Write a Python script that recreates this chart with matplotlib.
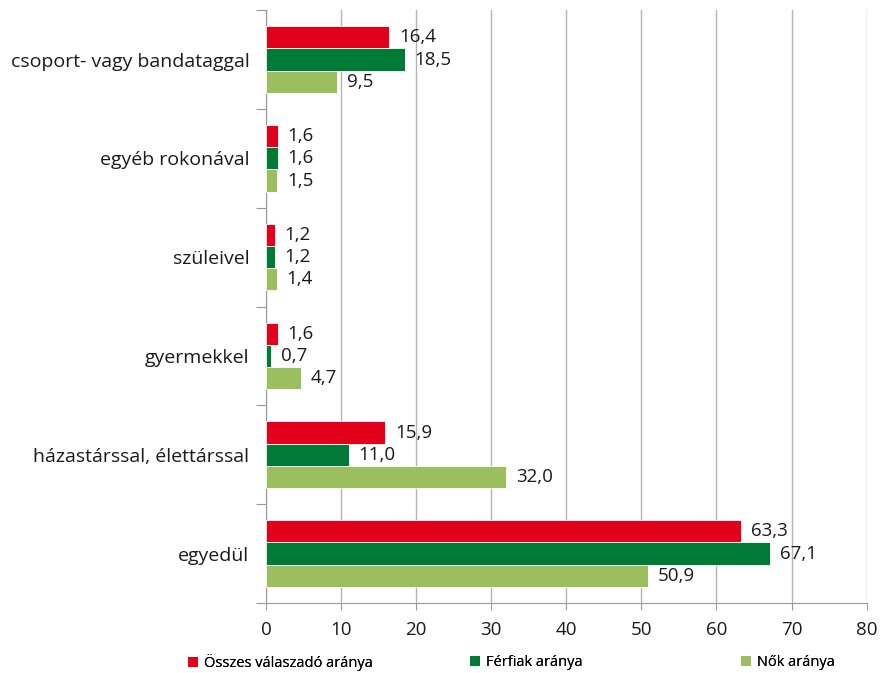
import numpy as np
import matplotlib
matplotlib.use("Agg")
import matplotlib.pyplot as plt
from matplotlib.patches import Patch

plt.rcParams['font.family'] = ['Open Sans', 'DejaVu Sans']

categories = ["csoport- vagy bandataggal", "egyéb rokonával", "szüleivel",
              "gyermekkel", "házastárssal, élettárssal", "egyedül"]
total = [16.4, 1.6, 1.2, 1.6, 15.9, 63.3]
men = [18.5, 1.6, 1.2, 0.7, 11.0, 67.1]
women = [9.5, 1.5, 1.4, 4.7, 32.0, 50.9]
series_names = ["Összes válaszadó aránya", "Férfiak aránya", "Nők aránya"]
colors = ["#E2001A", "#007A37", "#9BBF5F"]
legend_x = [0.213, 0.533, 0.840]

def main():
    fig = plt.figure(figsize=(8.82, 6.73), dpi=100)
    ax = fig.add_axes([0.3016, 0.104, 0.681, 0.881])

    y = np.arange(len(categories))
    h = 0.225
    for i, (vals, c) in enumerate(zip([total, men, women], colors)):
        pos = y + (i - 1) * h
        ax.barh(pos, vals, height=h, color=c, edgecolor="white", linewidth=0.6, zorder=3)
        for p, v in zip(pos, vals):
            ax.annotate(("%.1f" % v).replace(".", ","), (v, p), xytext=(7, 0),
                        textcoords="offset points", va="center", ha="left",
                        fontsize=13.5, color="#1a1a1a")

    ax.set_xlim(0, 80)
    ax.set_ylim(len(categories) - 0.5, -0.5)
    ax.set_xticks(np.arange(0, 81, 10))
    ax.xaxis.grid(True, color="#b4b4b4", linewidth=1, zorder=0)
    ax.tick_params(axis="x", colors="#999999", labelcolor="#1a1a1a", labelsize=13.5,
                   length=5, pad=8)

    # boundary ticks on y axis, labels at category centres
    ax.set_yticks(np.arange(-0.5, len(categories), 1.0))
    ax.set_yticklabels([])
    ax.tick_params(axis="y", which="major", length=7, colors="#999999")
    ax.set_yticks(y, minor=True)
    ax.set_yticklabels(categories, minor=True)
    ax.tick_params(axis="y", which="minor", length=0, pad=12, labelsize=14,
                   labelcolor="#1a1a1a")

    for s in ["top", "right"]:
        ax.spines[s].set_visible(False)
    for s in ["left", "bottom"]:
        ax.spines[s].set_color("#999999")

    # one legend per entry, placed like the original
    for name, c, lx in zip(series_names, colors, legend_x):
        leg = fig.legend([Patch(facecolor=c, edgecolor="none")], [name],
                         loc="center left", bbox_to_anchor=(lx, 0.015),
                         frameon=False, fontsize=10.5, handlelength=0.7,
                         handleheight=0.7, handletextpad=0.4, borderpad=0,
                         borderaxespad=0)
        fig.add_artist(leg)

    fig.savefig("out.png", dpi=100)

if __name__ == "__main__":
    main()
